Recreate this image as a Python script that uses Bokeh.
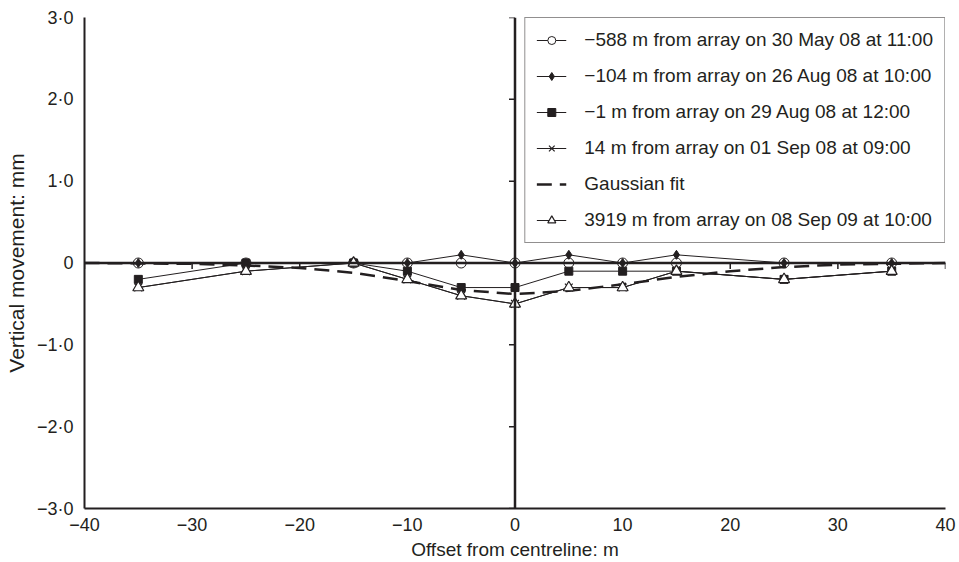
import math
from bokeh.plotting import figure
from bokeh.models import LinearAxis, FixedTicker, Range1d, Legend, LegendItem, Span
from bokeh.embed import file_html
from bokeh.resources import INLINE

# ---- data ----
offset = [-35, -25, -15, -10, -5, 0, 5, 10, 15, 25, 35]
m588_30may08 = [0, 0, 0, 0, 0, 0, 0, 0, 0, 0, 0]
m104_26aug08 = [0, 0, 0, 0, 0.1, 0, 0.1, 0, 0.1, 0, 0]
m1_29aug08 = [-0.2, 0, 0, -0.1, -0.3, -0.3, -0.1, -0.1, -0.1, -0.2, -0.1]
m14_01sep08 = [-0.3, -0.1, 0, -0.2, -0.4, -0.5, -0.3, -0.3, -0.1, -0.2, -0.1]
m3919_08sep09 = [-0.3, -0.1, 0, -0.2, -0.4, -0.5, -0.3, -0.3, -0.1, -0.2, -0.1]

gauss_x = [-40, -35, -30, -25, -20, -15, -10, -5, 0, 5, 10, 15, 20, 25, 30, 35, 40]
gauss_y = [0, -0.005, -0.01, -0.03, -0.06, -0.12, -0.22, -0.33, -0.38, -0.34, -0.26, -0.17, -0.1, -0.05, -0.02, -0.01, 0]

x_ticks = [-40, -30, -20, -10, 0, 10, 20, 30, 40]
x_tick_labels = ["\u221240", "\u221230", "\u221220", "\u221210", "0", "10", "20", "30", "40"]
y_ticks = [-3, -2, -1, 0, 1, 2, 3]
y_tick_labels = ["\u22123\u00b70", "\u22122\u00b70", "\u22121\u00b70", "0", "1\u00b70", "2\u00b70", "3\u00b70"]

labels = [
    "\u2212588 m from array on 30 May 08 at 11:00",
    "\u2212104 m from array on 26 Aug 08 at 10:00",
    "\u22121 m from array on 29 Aug 08 at 12:00",
    "14 m from array on 01 Sep 08 at 09:00",
    "Gaussian fit",
    "3919 m from array on 08 Sep 09 at 10:00",
]

INK = "#231f20"
FONT = "Liberation Sans"

p = figure(width=959, height=562, x_range=Range1d(-40, 40), y_range=Range1d(-3, 3),
           output_backend="svg", toolbar_location=None,
           x_axis_type=None, y_axis_type=None,
           min_border_left=84, min_border_right=14, min_border_top=17, min_border_bottom=54)
p.grid.visible = False
p.outline_line_color = None
p.background_fill_color = "white"
p.border_fill_color = "white"


def style_axis(ax, label_size):
    ax.axis_line_color = INK
    ax.major_tick_line_color = INK
    ax.minor_tick_line_color = None
    ax.major_label_text_color = INK
    ax.major_label_text_font = FONT
    ax.major_label_text_font_size = "18px"
    ax.axis_label_text_font = FONT
    ax.axis_label_text_font_size = label_size
    ax.axis_label_text_font_style = "normal"
    ax.axis_label_text_color = INK
    ax.axis_line_width = 2
    ax.major_tick_out = 0
    ax.major_tick_in = 0


# left axis
ly = LinearAxis(ticker=FixedTicker(ticks=y_ticks),
                major_label_overrides=dict(zip(y_ticks, y_tick_labels)),
                axis_label="Vertical movement: mm")
style_axis(ly, "21px")
ly.major_label_standoff = 11
ly.axis_label_standoff = 6
p.add_layout(ly, "left")

# bottom axis
bx = LinearAxis(ticker=FixedTicker(ticks=x_ticks),
                major_label_overrides=dict(zip(x_ticks, x_tick_labels)),
                axis_label="Offset from centreline: m")
style_axis(bx, "19px")
bx.major_label_standoff = 9
bx.axis_label_standoff = 5
p.add_layout(bx, "below")

# centre lines through zero, with their ticks
p.add_layout(Span(location=0, dimension="width", line_color=INK, line_width=2.5))
p.add_layout(Span(location=0, dimension="height", line_color=INK, line_width=2.5))
p.ray(x=x_ticks, y=[0] * len(x_ticks), length=6, length_units="screen",
      angle=-math.pi / 2, line_color=INK, line_width=1.5)
p.ray(x=[0] * len(y_ticks), y=y_ticks, length=6, length_units="screen",
      angle=math.pi, line_color=INK, line_width=1.5)

# series
r1l = p.line(offset, m588_30may08, line_color=INK, line_width=1)
r1s = p.scatter(offset, m588_30may08, marker="circle", size=10, fill_color="white", line_color=INK, line_width=1)
r2l = p.line(offset, m104_26aug08, line_color=INK, line_width=1)
r2s = p.scatter(offset, m104_26aug08, marker="diamond", size=9, fill_color=INK, line_color=INK)
r3l = p.line(offset, m1_29aug08, line_color=INK, line_width=1)
r3s = p.scatter(offset, m1_29aug08, marker="square", size=8, fill_color=INK, line_color=INK)
r4l = p.line(offset, m14_01sep08, line_color=INK, line_width=1)
r4s = p.scatter(offset, m14_01sep08, marker="x", size=11, line_color=INK, line_width=1.2)
r5l = p.line(gauss_x, gauss_y, line_color=INK, line_width=2.5, line_dash="15 8")
r6l = p.line(offset, m3919_08sep09, line_color=INK, line_width=1)
r6s = p.scatter(offset, m3919_08sep09, marker="triangle", size=11, fill_color="white", line_color=INK, line_width=1.2)

items = [
    LegendItem(label=labels[0], renderers=[r1l, r1s]),
    LegendItem(label=labels[1], renderers=[r2l, r2s]),
    LegendItem(label=labels[2], renderers=[r3l, r3s]),
    LegendItem(label=labels[3], renderers=[r4l, r4s]),
    LegendItem(label=labels[4], renderers=[r5l]),
    LegendItem(label=labels[5], renderers=[r6l, r6s]),
]
legend = Legend(items=items, location="top_right")
legend.margin = 0
legend.padding = 11
legend.spacing = 14
legend.glyph_width = 30
legend.glyph_height = 20
legend.label_height = 20
legend.label_standoff = 18
legend.label_text_font = FONT
legend.label_text_font_size = "19px"
legend.label_text_color = INK
legend.border_line_color = INK
legend.border_line_width = 1
legend.background_fill_color = "white"
legend.background_fill_alpha = 1
p.add_layout(legend)

open("out.html", "w").write(file_html(p, INLINE))
